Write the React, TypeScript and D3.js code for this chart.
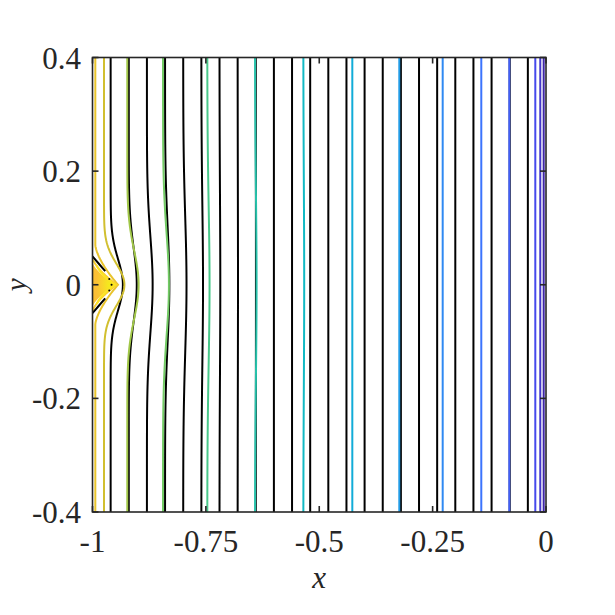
import React from 'react';
import * as d3 from 'd3';

const W = 615;
const H = 615;

const xTicks = [-1, -0.75, -0.5, -0.25, 0];
const xTickLabels = ['-1', '-0.75', '-0.5', '-0.25', '0'];
const yTicks = [-0.4, -0.2, 0, 0.2, 0.4];
const yTickLabels = ['-0.4', '-0.2', '0', '0.2', '0.4'];

// Black contour lines: far-field x, bulge at y = 0, bulge spread (in y)
const blackX = [-0.96, -0.92, -0.88, -0.84, -0.8, -0.76, -0.72, -0.68, -0.64, -0.6, -0.56, -0.52, -0.48, -0.44, -0.4, -0.36, -0.32, -0.28, -0.24, -0.2, -0.16, -0.12, -0.08, -0.04];
const blackBulge = [0.027, 0.0176, 0.0126, 0.0095, 0.0073, 0.0037, 0.0018, 0.0008, 0.0004, 0, 0, 0, 0, 0, 0, 0, 0, 0, 0, 0, 0, 0, 0, 0];
const blackSpread = [0.045, 0.065, 0.085, 0.1, 0.12, 0.14, 0.16, 0.18, 0.2, 0.2, 0.2, 0.2, 0.2, 0.2, 0.2, 0.2, 0.2, 0.2, 0.2, 0.2, 0.2, 0.2, 0.2, 0.2];

// Coloured contour lines (level index 0 = lowest, dark blue)
const levelX = [-0.0051, -0.0126, -0.0236, -0.0809, -0.1427, -0.2278, -0.3235, -0.4271, -0.5352, -0.6417, -0.7469, -0.8445, -0.9233, -0.9746];
const levelBulge = [0, 0, 0, 0, 0, 0, 0, 0, 0.002, 0.0035, 0.005, 0.013, 0.025, 0.045];
const levelSpread = [0.2, 0.2, 0.2, 0.2, 0.2, 0.2, 0.2, 0.2, 0.18, 0.16, 0.14, 0.09, 0.06, 0.037];
const levelIndex = [0, 1, 2, 3, 4, 5, 6, 7, 8, 9, 10, 11, 12, 13];
const levelCount = 18;

// Cusp-shaped contours around the singular point near (-0.95, 0)
const cuspX = [-0.9938, -1.0, -0.99];
const cuspTip = [-0.9438, -0.9465, -0.95];
const cuspHalf = [0.07, 0.048, 0.034];
const cuspLevel = [14, 15, 16];

// black dividing arms and dots near the singular point
const armUpper: [number, number][] = [[-1, 0.05], [-0.986, 0.037], [-0.972, 0.024]];
const armLower: [number, number][] = [[-1, -0.05], [-0.986, -0.037], [-0.972, -0.024]];
const dots: [number, number][] = [[-0.963, 0.01], [-0.958, 0], [-0.963, -0.01]];

// parula colormap (sampled rows)
const parulaStops: [number, number, number][] = [
  [0.2422, 0.1504, 0.6603], [0.2803, 0.2782, 0.9221], [0.2440, 0.4358, 0.9988],
  [0.1540, 0.5902, 0.9218], [0.0297, 0.7082, 0.8163], [0.1938, 0.7758, 0.6251],
  [0.5044, 0.7993, 0.3480], [0.8634, 0.7406, 0.1596], [0.9892, 0.8136, 0.1885],
  [0.9769, 0.9839, 0.0805],
];
const parula = d3.scaleLinear<string>()
  .domain(parulaStops.map((_, i) => i / (parulaStops.length - 1)))
  .range(parulaStops.map(c => d3.rgb(c[0] * 255, c[1] * 255, c[2] * 255).formatHex()))
  .interpolate(d3.interpolateRgb);

const L = 92.5, R = 546, T = 57.5, B = 512;

export default function App() {
  const x = d3.scaleLinear().domain([-1, 0]).range([L, R]);
  const y = d3.scaleLinear().domain([-0.4, 0.4]).range([B, T]);
  const ys = d3.range(-0.4, 0.4001, 0.0025);
  const line = d3.line<[number, number]>().x(d => x(d[0])).y(d => y(d[1])).curve(d3.curveLinear);

  const bulgePath = (x0: number, b: number, s: number) =>
    line(ys.map(v => [x0 + b * Math.exp(-(v * v) / (2 * s * s)), v] as [number, number])) || '';

  const cuspPath = (x0: number, tip: number, h: number, full: boolean) => {
    const pts = (full ? ys : d3.range(-h, h + 0.00001, h / 60)).map(v => {
      const u = Math.max(0, 1 - Math.abs(v) / h);
      return [x0 + (tip - x0) * Math.pow(u, 1.5), v] as [number, number];
    });
    return line(pts) || '';
  };

  const font = "'Liberation Serif', 'Times New Roman', Times, serif";
  const axisColor = '#262626';
  const tickLen = 6;
  const fs = 31;

  return (
    <svg width={W} height={H} style={{ position: 'absolute', left: 0, top: 0, background: '#fff' }}>
      <defs>
        <clipPath id="plot">
          <rect x={L} y={T} width={R - L} height={B - T} />
        </clipPath>
        <radialGradient id="hot" cx="0.75" cy="0.5" r="0.6">
          <stop offset="0" stopColor="#f4ec1c" />
          <stop offset="0.5" stopColor="#f9d52a" />
          <stop offset="1" stopColor="#fbbf34" />
        </radialGradient>
      </defs>
      <rect x={0} y={0} width={W} height={H} fill="#fff" />
      <g clipPath="url(#plot)">
        {blackX.map((bx, i) => (
          <path key={'b' + i} d={bulgePath(bx, blackBulge[i], blackSpread[i])} fill="none" stroke="#000" strokeWidth={2} />
        ))}
        {levelX.map((lx, i) => (
          <path key={'c' + i} d={bulgePath(lx, levelBulge[i], levelSpread[i])} fill="none"
            stroke={parula(levelIndex[i] / (levelCount - 1))} strokeWidth={2} />
        ))}
        <path d={cuspPath(cuspX[2] - 0.01, cuspTip[2], cuspHalf[2] + 0.006, false)} fill="url(#hot)" stroke="none" />
        {cuspX.map((cx, i) => (
          <path key={'k' + i} d={cuspPath(cx, cuspTip[i], cuspHalf[i], i === 0)} fill="none"
            stroke={parula(cuspLevel[i] / (levelCount - 1))} strokeWidth={2} />
        ))}
        <path d={line(armUpper) || ''} fill="none" stroke="#000" strokeWidth={2} />
        <path d={line(armLower) || ''} fill="none" stroke="#000" strokeWidth={2} />
        {dots.map((d, i) => (
          <circle key={'d' + i} cx={x(d[0])} cy={y(d[1])} r={1} fill="#000" />
        ))}
      </g>
      <rect x={L} y={T} width={R - L} height={B - T} fill="none" stroke={axisColor} strokeWidth={1.6} />
      {xTicks.map((t, i) => (
        <g key={'xt' + i}>
          <line x1={x(t)} x2={x(t)} y1={B} y2={B - tickLen} stroke={axisColor} strokeWidth={1.6} />
          <line x1={x(t)} x2={x(t)} y1={T} y2={T + tickLen} stroke={axisColor} strokeWidth={1.6} />
          <text x={x(t)} y={552} textAnchor="middle" fontFamily={font} fontSize={fs} fill="#262626">{xTickLabels[i]}</text>
        </g>
      ))}
      {yTicks.map((t, i) => (
        <g key={'yt' + i}>
          <line x1={L} x2={L + tickLen} y1={y(t)} y2={y(t)} stroke={axisColor} strokeWidth={1.6} />
          <line x1={R} x2={R - tickLen} y1={y(t)} y2={y(t)} stroke={axisColor} strokeWidth={1.6} />
          <text x={81} y={y(t) + 11} textAnchor="end" fontFamily={font} fontSize={fs} fill="#262626">{yTickLabels[i]}</text>
        </g>
      ))}
      <text x={(L + R) / 2} y={588} textAnchor="middle" fontFamily={font} fontStyle="italic" fontSize={fs} fill="#262626">x</text>
      <text transform={`translate(26, ${(T + B) / 2}) rotate(-90)`} textAnchor="middle" fontFamily={font} fontStyle="italic" fontSize={29} fill="#262626">y</text>
    </svg>
  );
}
